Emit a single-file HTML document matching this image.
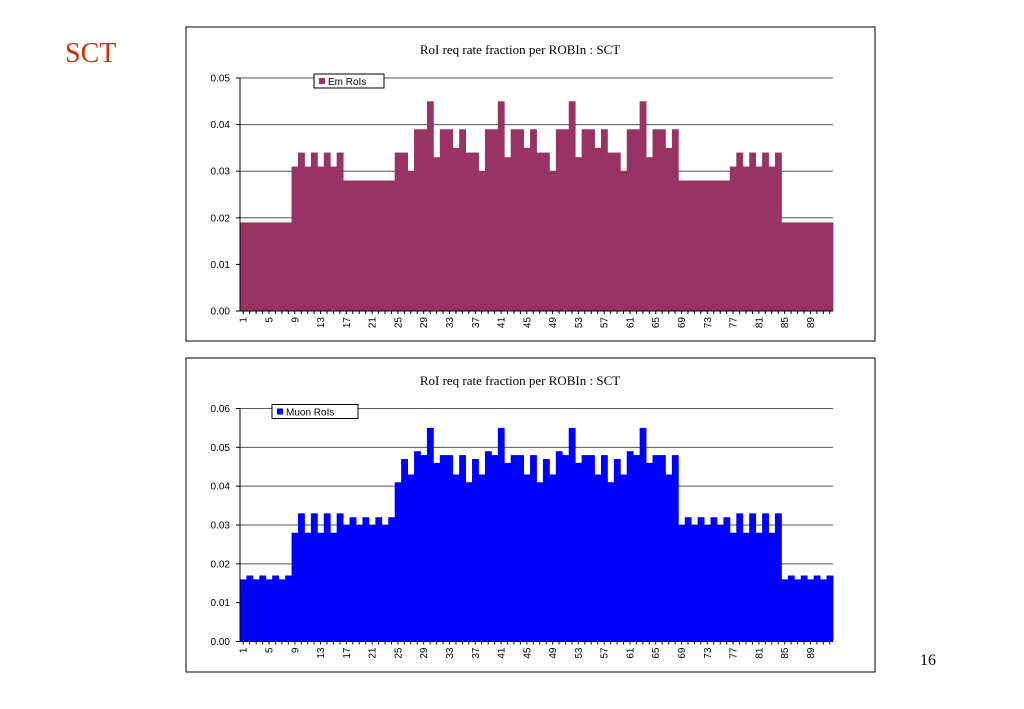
<!DOCTYPE html>
<html><head><meta charset="utf-8"><style>
body{margin:0;width:1024px;height:709px;background:#fff;position:relative;overflow:hidden;font-family:"Liberation Sans",sans-serif}
.abs{position:absolute}
</style></head><body>
<div class="abs" style="left:65px;top:38px;font:28px 'Liberation Serif',serif;color:#cc3300">SCT</div>
<div class="abs" style="left:920px;top:652px;font:16px 'Liberation Serif',serif;color:#000">16</div>
<svg id="s" class="abs" style="left:0;top:0" width="1024" height="709"></svg>
<script>
const categories = Array.from({length:92},(_,i)=>String(i+1));
const emValues = [
.019,.019,.019,.019,.019,.019,.019,.019,
.031,.034,.031,.034,.031,.034,.031,.034,
.028,.028,.028,.028,.028,.028,.028,.028,
.034,.034,.030,.039,.039,.045,.033,.039,.039,.035,.039,.034,.034,.030,.039,.039,.045,.033,.039,.039,.035,.039,
.034,.034,.030,.039,.039,.045,.033,.039,.039,.035,.039,.034,.034,.030,.039,.039,.045,.033,.039,.039,.035,.039,
.028,.028,.028,.028,.028,.028,.028,.028,
.031,.034,.031,.034,.031,.034,.031,.034,
.019,.019,.019,.019,.019,.019,.019,.019];
const muonValues = [
.016,.017,.016,.017,.016,.017,.016,.017,
.028,.033,.028,.033,.028,.033,.028,.033,
.030,.032,.030,.032,.030,.032,.030,.032,
.041,.047,.043,.049,.048,.055,.046,.048,.048,.043,.048,
.041,.047,.043,.049,.048,.055,.046,.048,.048,.043,.048,
.041,.047,.043,.049,.048,.055,.046,.048,.048,.043,.048,
.041,.047,.043,.049,.048,.055,.046,.048,.048,.043,.048,
.030,.032,.030,.032,.030,.032,.030,.032,
.028,.033,.028,.033,.028,.033,.028,.033,
.016,.017,.016,.017,.016,.017,.016,.017];
const emTicks = [0,0.01,0.02,0.03,0.04,0.05];
const muonTicks = [0,0.01,0.02,0.03,0.04,0.05,0.06];
const NS='http://www.w3.org/2000/svg';
const svg=document.getElementById('s');
function mk(tag,attrs,parent){const e=document.createElementNS(NS,tag);for(const k in attrs)e.setAttribute(k,attrs[k]);(parent||svg).appendChild(e);return e;}
function chart(box,plot,ticks,values,color,legend,legendX,legendW,prefix){
  const g=mk('g',{});
  
  
  const fr=mk('rect',{x:box.x,y:box.y,width:box.w,height:box.h,fill:'#fff',stroke:'#000','stroke-width':1},g);
  
  
  const t=mk('text',{x:520,y:box.y+27,'text-anchor':'middle','font-family':'Liberation Serif, serif','font-size':13},g);
  t.textContent='RoI req rate fraction per ROBIn : SCT';
  
  
  const max=ticks[ticks.length-1];
  const yS=v=>plot.y1-(v/max)*(plot.y1-plot.y0);
  const bw=(plot.x1-plot.x0)/values.length;
  const xS=i=>plot.x0+i*bw;
  ticks.forEach(v=>{
    const y=yS(v);
    if(v>0){const l=mk('line',{x1:plot.x0,x2:plot.x1,y1:y,y2:y,stroke:'#555','stroke-width':1},g);
      
      }
    mk('line',{x1:plot.x0-4,x2:plot.x0,y1:y,y2:y,stroke:'#000'},g);
    const tx=mk('text',{x:plot.x0-10,y:y+3.5,'text-anchor':'end','font-size':10},g);
    tx.textContent=v.toFixed(2);
    
    
  });
  values.forEach((v,i)=>{
    const r=mk('rect',{x:xS(i),y:yS(v),width:bw+0.4,height:plot.y1-yS(v),fill:color},g);
    
    
  });
  mk('line',{x1:plot.x0,x2:plot.x0,y1:plot.y0,y2:plot.y1,stroke:'#000'},g);
  mk('line',{x1:plot.x0,x2:plot.x1,y1:plot.y1,y2:plot.y1,stroke:'#000'},g);
  categories.forEach((c,i)=>{
    const x=xS(i)+bw/2;
    mk('line',{x1:x,x2:x,y1:plot.y1,y2:plot.y1+3,stroke:'#000'},g);
    if(i%4===0){
      const tx=mk('text',{x:x+3.5,y:plot.y1+6,'text-anchor':'end','font-size':10,transform:`rotate(-90 ${x+3.5} ${plot.y1+6})`},g);
      tx.textContent=c;
      
      
    }
  });
  const lg=mk('g',{},g);
  
  
  const ly=plot.y0+2;
  mk('rect',{x:legendX,y:ly-6,width:legendW,height:14,fill:'#fff',stroke:'#000'},lg);
  mk('rect',{x:legendX+5,y:ly-2,width:6,height:6,fill:color},lg);
  const lt=mk('text',{x:legendX+14,y:ly+5,'font-size':10},lg);
  lt.textContent=legend;
}
chart({x:186,y:27,w:689,h:314},{x0:240,x1:833,y0:78,y1:311},emTicks,emValues,'#993366','Em RoIs',314,70,'em');
chart({x:186,y:358,w:689,h:314},{x0:240,x1:833,y0:408.5,y1:641.5},muonTicks,muonValues,'#0000ff','Muon RoIs',272,86,'muon');
</script>
</body></html>
